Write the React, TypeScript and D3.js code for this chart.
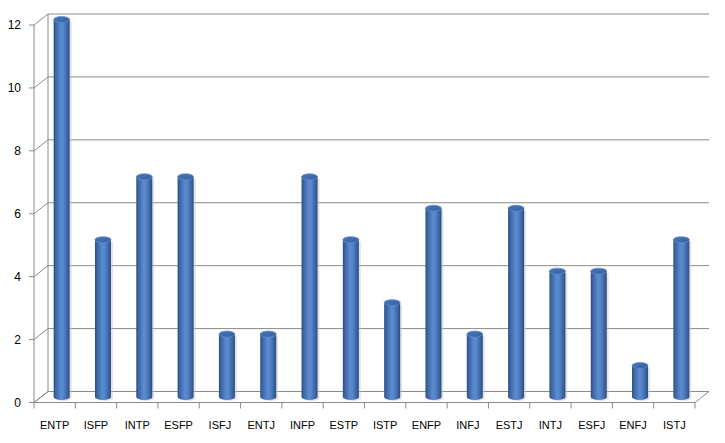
import React from "react";
import * as d3 from "d3";

const categories = ["ENTP","ISFP","INTP","ESFP","ISFJ","ENTJ","INFP","ESTP","ISTP","ENFP","INFJ","ESTJ","INTJ","ESFJ","ENFJ","ISTJ"];
const values = [12,5,7,7,2,2,7,5,3,6,2,6,4,4,1,5];
const yTicks = [0,2,4,6,8,10,12];

export default function App() {
  const W = 725, H = 443;
  const x0 = 34, x1 = 695; // front floor
  const dx = 14, dy = -11; // depth offset
  const yFront = d3.scaleLinear().domain([0, 12]).range([402.5, 25]);
  const band = d3.scaleBand<string>().domain(categories).range([x0, x1]).paddingInner(0).paddingOuter(0);
  const bw = 16;
  const ry = 3;
  const grid = "#8a8a8a";
  const font = "'Liberation Sans', Arial, sans-serif";
  return (
    <svg width={W} height={H} style={{ position: "absolute", left: 0, top: 0, background: "#fff" }}>
      <defs>
        <linearGradient id="cyl" x1="0" x2="1" y1="0" y2="0">
          <stop offset="0" stopColor="#2b4f82" />
          <stop offset="0.15" stopColor="#3e68a6" />
          <stop offset="0.45" stopColor="#5a8ad0" />
          <stop offset="0.6" stopColor="#5686cb" />
          <stop offset="0.85" stopColor="#3c66a3" />
          <stop offset="1" stopColor="#294b7c" />
        </linearGradient>
        <linearGradient id="topg" x1="0" x2="1" y1="0" y2="1">
          <stop offset="0" stopColor="#4a77b8" />
          <stop offset="1" stopColor="#355f9c" />
        </linearGradient>
      </defs>
      {/* back wall gridlines and side diagonals */}
      {yTicks.map((t) => {
        const yf = yFront(t);
        return (
          <g key={t}>
            {t > 0 && <line x1={x0 + dx} x2={x1 + dx} y1={yf + dy} y2={yf + dy} stroke={grid} strokeWidth={1} />}
            <line x1={x0} x2={x0 + dx} y1={yf} y2={yf + dy} stroke={grid} strokeWidth={1} />
            <line x1={x0 - 5} x2={x0} y1={yf} y2={yf} stroke={grid} strokeWidth={1} />
            <text x={21} y={yf} dy="0.35em" textAnchor="end" fontSize={12} fontFamily={font} fill="#000">{t}</text>
          </g>
        );
      })}
      {/* left wall */}
      <line x1={x0} x2={x0} y1={yFront(12)} y2={yFront(0)} stroke={grid} />
      <line x1={x0 + dx} x2={x0 + dx} y1={yFront(12) + dy} y2={yFront(0) + dy} stroke={grid} />
      {/* floor */}
      <path d={`M${x0},${yFront(0)} L${x1},${yFront(0)} L${x1 + dx},${yFront(0) + dy} L${x0 + dx},${yFront(0) + dy} Z`} fill="none" stroke={grid} />
      {/* x ticks */}
      {categories.map((c, i) => (
        <line key={"t" + i} x1={band(c)!} x2={band(c)!} y1={yFront(0)} y2={yFront(0) + 6} stroke={grid} />
      ))}
      <line x1={x1} x2={x1} y1={yFront(0)} y2={yFront(0) + 6} stroke={grid} />
      {/* bars */}
      {categories.map((c, i) => {
        const cx = band(c)! + band.bandwidth() / 2 + dx / 2;
        const yb = yFront(0) + dy / 2;
        const yt = yFront(values[i]) + dy / 2;
        const l = cx - bw / 2, r = cx + bw / 2;
        const body = `M${l},${yt} L${l},${yb} A${bw / 2},${ry} 0 0 0 ${r},${yb} L${r},${yt} Z`;
        return (
          <g key={c}>
            <path d={`M${l + 2},${yt + 2} L${l + 2},${yb + 1} A${bw / 2},${ry} 0 0 0 ${r + 2},${yb + 1} L${r + 2},${yt + 2} Z`} fill="#c8c8c8" opacity={0.5} />
            <path d={body} fill="url(#cyl)" />
            <ellipse cx={cx} cy={yt} rx={bw / 2} ry={ry} fill="url(#topg)" stroke="#5d8dd0" strokeWidth={0.8} />
          </g>
        );
      })}
      {/* labels */}
      {categories.map((c) => (
        <text key={"l" + c} x={band(c)! + band.bandwidth() / 2} y={425} dy="0.35em" textAnchor="middle" fontSize={11} fontFamily={font} fill="#000">{c}</text>
      ))}
    </svg>
  );
}
